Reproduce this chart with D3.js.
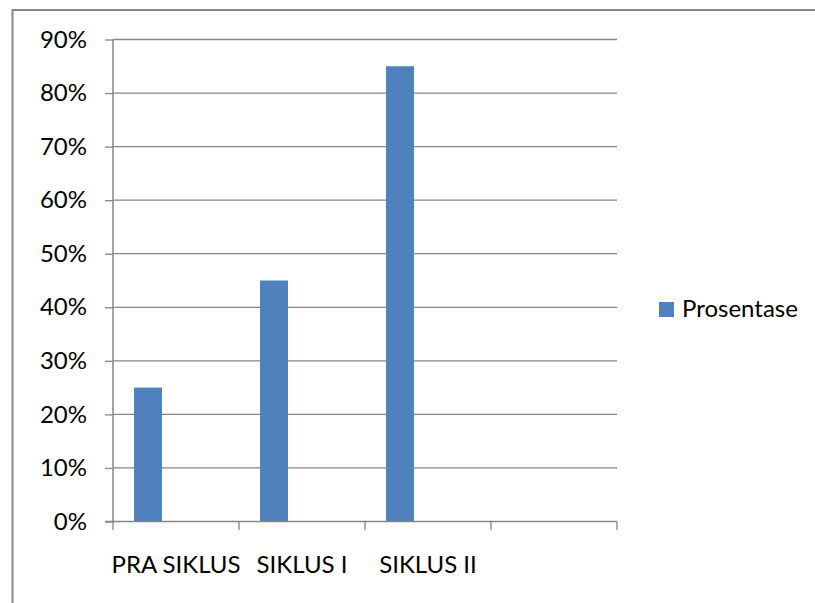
<!DOCTYPE html>
<html>
<head>
<meta charset="utf-8">
<script src="https://cdn.jsdelivr.net/npm/d3@7"></script>
<style>
  html, body { margin: 0; padding: 0; background: #fff; }
  svg text { font-family: Lato, "Open Sans", sans-serif; fill: #000; }
</style>
</head>
<body>
<svg id="chart" width="815" height="603"></svg>
<script>
// ---- data ----
const categories = ["PRA SIKLUS", "SIKLUS I", "SIKLUS II", ""];
const seriesName = "Prosentase";
const values = [0.25, 0.45, 0.85, null];
const yTicks = [0, 0.1, 0.2, 0.3, 0.4, 0.5, 0.6, 0.7, 0.8, 0.9];

// ---- layout ----
const svg = d3.select("#chart");
const W = 815, H = 603;
const plot = { left: 113, right: 617, top: 39.5, bottom: 521.5 };
const gray = "#868686";
const barColor = "#4F81BD";
const fontSize = 24;

// outer chart border (extends past right/bottom edges)
svg.append("rect")
  .attr("x", 12.5).attr("y", 10)
  .attr("width", W + 10).attr("height", H + 10)
  .attr("fill", "#fff").attr("stroke", gray).attr("stroke-width", 2);

const x = d3.scaleBand().domain(categories).range([plot.left, plot.right]).padding(0);
const slots = d3.scaleBand().domain([0, 1, 2]).range([0, x.bandwidth()])
  .paddingInner(0).paddingOuter(0.75);
const y = d3.scaleLinear().domain([0, 0.9]).range([plot.bottom, plot.top]);

// gridlines
svg.append("g").selectAll("line").data(yTicks.filter(d => d > 0)).join("line")
  .attr("x1", plot.left).attr("x2", plot.right)
  .attr("y1", d => y(d)).attr("y2", d => y(d))
  .attr("stroke", gray).attr("stroke-width", 1.3);

// bars
svg.append("g").selectAll("rect").data(categories.map((c, i) => ({ c, v: values[i] })).filter(d => d.v != null))
  .join("rect")
  .attr("x", d => x(d.c) + slots(0))
  .attr("width", slots.bandwidth())
  .attr("y", d => y(d.v))
  .attr("height", d => y(0) - y(d.v))
  .attr("fill", barColor);

// y axis
const yAxis = svg.append("g").attr("transform", `translate(${plot.left},0)`)
  .call(d3.axisLeft(y).tickValues(yTicks).tickFormat(d3.format(".0%")).tickSize(8).tickPadding(18));
yAxis.select(".domain").attr("stroke", gray).attr("stroke-width", 1.5)
  .attr("d", `M0,${plot.top}V${plot.bottom}`);
yAxis.selectAll(".tick line").attr("stroke", gray).attr("stroke-width", 1.3);
yAxis.selectAll(".tick text").attr("font-size", fontSize).attr("font-family", "Lato").attr("fill", "#000");

// x axis
const xAxis = svg.append("g").attr("transform", `translate(0,${plot.bottom})`);
xAxis.append("line").attr("x1", plot.left - 8).attr("x2", plot.right)
  .attr("stroke", gray).attr("stroke-width", 1.5);
const bounds = categories.map(c => x(c)).concat([plot.right]);
xAxis.selectAll("line.tk").data(bounds).join("line").attr("class", "tk")
  .attr("x1", d => d).attr("x2", d => d).attr("y1", 0).attr("y2", 8.5)
  .attr("stroke", gray).attr("stroke-width", 1.3);
xAxis.selectAll("text").data(categories).join("text")
  .attr("x", d => x(d) + x.bandwidth() / 2)
  .attr("y", 51)
  .attr("text-anchor", "middle")
  .attr("font-size", fontSize)
  .text(d => d);

// legend
const lg = svg.append("g").attr("transform", "translate(659,302)");
lg.append("rect").attr("width", 15).attr("height", 15).attr("fill", barColor);
lg.append("text").attr("x", 23).attr("y", 15).attr("font-size", fontSize).text(seriesName);
</script>
</body>
</html>
